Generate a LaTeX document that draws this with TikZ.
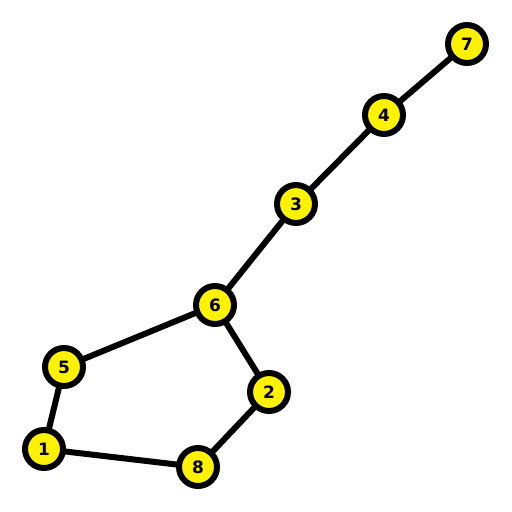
\documentclass[tikz,border=0pt]{standalone}
\usepackage{fontspec}
\setmainfont{DejaVu Sans}
\usetikzlibrary{backgrounds}
\begin{document}
\begin{tikzpicture}[x=1pt, y=-1pt,
    vertex/.style={circle, draw=black, fill=yellow, line width=6pt, minimum size=38pt, inner sep=0pt, font=\fontsize{17}{17}\selectfont\bfseries},
    link/.style={line width=6pt}]
\useasboundingbox (0,0) rectangle (512,512);
% --- 頂点 ---
\node [vertex] (n7) at (467,44) {7};
\node [vertex] (n4) at (384,115) {4};
\node [vertex] (n3) at (296,204) {3};
\node [vertex] (n6) at (215,305) {6};
\node [vertex] (n5) at (64,367) {5};
\node [vertex] (n2) at (269,392) {2};
\node [vertex] (n1) at (44,449) {1};
\node [vertex] (n8) at (198,467) {8};

    % --- 辺 ---
    \begin{scope}[on background layer]
    \foreach \a/\b in {n7/n4, n4/n3, n3/n6, n6/n5, n6/n2, n5/n1, n1/n8, n8/n2} {
        \draw [link] (\a.center) -- (\b.center);
    }
    \end{scope}
\end{tikzpicture}
\end{document}
